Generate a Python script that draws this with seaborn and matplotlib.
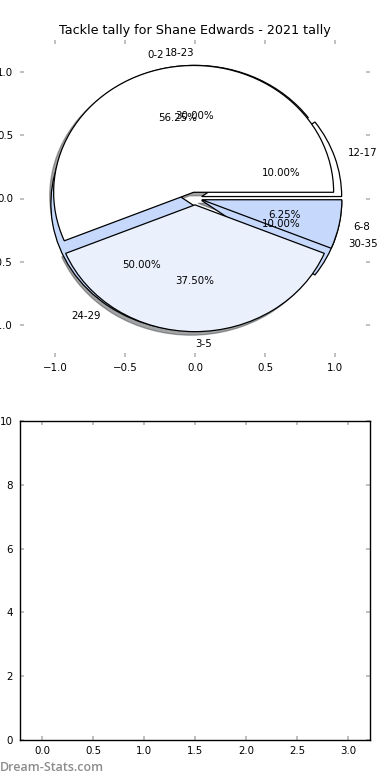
import matplotlib
matplotlib.use("Agg")
import matplotlib.pyplot as plt
import seaborn as sns

# data
tackle_bands = ['0-2', '3-5', '6-8']
tackle_counts = [9, 6, 1]

tally_bands = ['12-17', '18-23', '24-29', '30-35']
tally_counts = [1, 3, 5, 1]

title = "Tackle tally for Shane Edwards - 2021 tally"

# styling
sns.set_style("white")
plt.rcParams['font.family'] = ['DejaVu Sans']
plt.rcParams['font.size'] = 7.4
plt.rcParams['text.color'] = 'black'

colors_a = ['white', '#eaf1fd', '#c6d9fd']
colors_b = ['white', '#eaf1fd', '#c6d9fd', '#c6d9fd']
wedge_style = {'edgecolor': 'black', 'linewidth': 0.9}
tick_gray = '#b5b5b5'

fig = plt.figure(figsize=(3.9, 7.8), dpi=100)
ax1 = fig.add_axes([20 / 390, 1 - 357 / 780, 350 / 390, 317 / 780])
ax2 = fig.add_axes([20 / 390, 40 / 780, 350 / 390, 319 / 780])

# 1. two pies drawn on the same axes
_, texts_b, _ = ax1.pie(tally_counts, labels=tally_bands, colors=colors_b,
                        explode=[0.05] * len(tally_counts), autopct='%1.2f%%',
                        shadow=False, wedgeprops=wedge_style,
                        textprops={'fontsize': 7.4, 'color': 'black'})
ax1.pie(tackle_counts, labels=tackle_bands, colors=colors_a,
        explode=[0.05] * len(tackle_counts), autopct='%1.2f%%',
        shadow=True, wedgeprops=wedge_style,
        textprops={'fontsize': 7.4, 'color': 'black'})
texts_b[1].set_horizontalalignment('right')

ax1.set_aspect('auto')
ax1.set_frame_on(False)
ax1.set_xlim(-1.25, 1.25)
ax1.set_ylim(-1.25, 1.25)
ax1.set_xticks([-1.0, -0.5, 0.0, 0.5, 1.0])
ax1.set_yticks([-1.0, -0.5, 0.0, 0.5, 1.0])
ax1.set_title(title, fontsize=9.2, pad=4, color='black')

# 2. empty second panel
ax2.set_xlim(-0.215, 3.215)
ax2.set_ylim(0, 10)
ax2.set_xticks([0.0, 0.5, 1.0, 1.5, 2.0, 2.5, 3.0])
ax2.set_yticks([0, 2, 4, 6, 8, 10])
for side in ax2.spines.values():
    side.set_color('black')
    side.set_linewidth(1.0)

for ax in (ax1, ax2):
    ax.tick_params(direction='in', length=3, width=1.2, color=tick_gray,
                   labelcolor='black', top=True, right=True, bottom=True,
                   left=True, labelsize=7.4, pad=4)
    ax.tick_params(axis='y', pad=5)

fig.text(0.0, 0.008, "Dream-Stats.com", fontsize=9, color='#8c8c8c',
         family=['Open Sans', 'DejaVu Sans'], weight='semibold',
         ha='left', va='bottom')

fig.savefig("out.png", dpi=100)
